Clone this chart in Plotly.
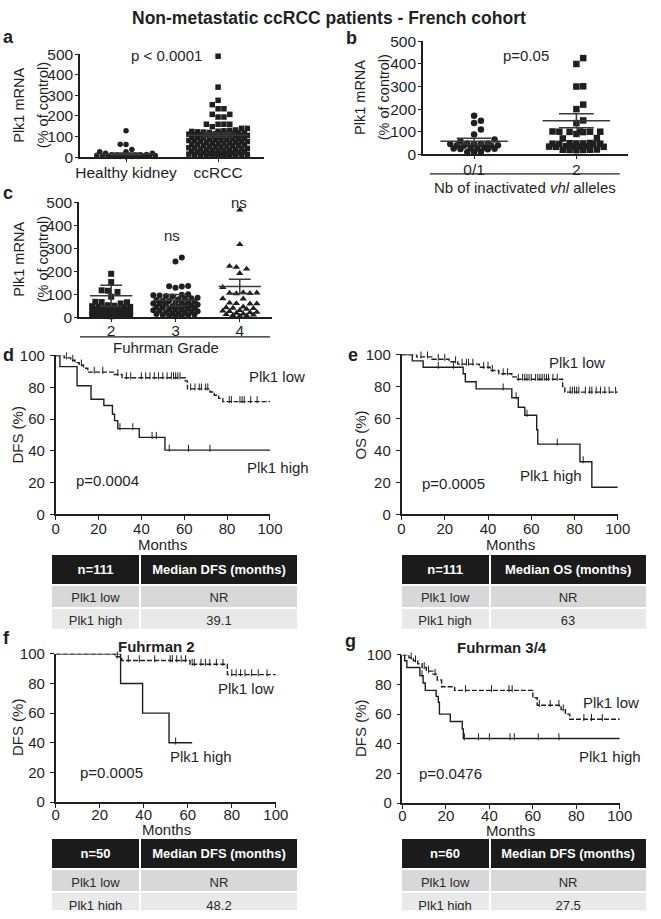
import numpy as np
import plotly.graph_objects as go

W, H = 661, 919
FONT = "Arial, 'Liberation Sans', Helvetica, sans-serif"
INK = "#1f1f1f"

# ===== a : Plk1 mRNA, healthy kidney vs ccRCC =====
a_groups = ["Healthy kidney", "ccRCC"]
a_healthy = [128, 63, 62, 38, 27, 27, 19, 19, 13, 12, 12, 11, 11, 10, 10, 9, 8, 7, 6, 5, 5, 4, 4, 3, 3, 2]
a_ccrcc = [490, 340, 276, 255, 235, 235, 208, 208, 195, 195, 160, 160, 160, 160, 148, 140, 140,
           132, 130, 128, 126, 125, 123, 122, 120, 119, 118, 116, 115, 114, 113, 112, 110, 109, 108,
           106, 105, 104, 102, 100, 99, 98, 96, 95, 94, 92, 90, 89, 88, 86, 85, 83, 81, 80, 78, 76,
           75, 73, 71, 70, 68, 66, 65, 63, 61, 60, 58, 56, 55, 53, 51, 50, 48, 46, 45, 43, 41, 40,
           38, 36, 35, 33, 31, 30, 28, 26, 25, 23, 21, 20, 19, 18, 17, 16, 15, 14, 13, 12, 11, 10,
           9, 8, 7, 6, 5]
a_mean = [16, 107]
a_err = [4, 10]

# ===== b : number of inactivated vhl alleles =====
b_groups = ["0/1", "2"]
b_vhl01 = [171, 148, 139, 110, 87, 65, 58, 48, 48, 47, 46, 45, 40, 40, 39, 38, 29, 27, 25, 25,
           24, 23, 22, 10, 10, 9]
b_vhl2 = [426, 400, 301, 300, 220, 200, 150, 138, 101, 101, 100, 100, 100, 99, 98, 90, 72, 70,
          50, 49, 48, 48, 47, 47, 46, 45, 36, 35, 35, 34, 34, 33, 33, 21, 20, 20, 19, 19, 18]
b_mean = [58, 148]
b_err = [13, 31]

# ===== c : Fuhrman grade =====
c_groups = ["2", "3", "4"]
c_grade2 = [189, 153, 117, 115, 110, 89, 67, 66, 65, 60, 52, 50, 48, 46, 45, 43, 40, 38, 36, 35,
            33, 31, 30, 28, 26, 25, 23, 21, 20, 18, 17, 15, 14, 13, 12, 11, 10, 9, 8, 8, 7, 6, 5,
            5, 4]
c_grade3 = [260, 243, 136, 135, 134, 128, 100, 98, 96, 95, 92, 90, 85, 82, 80, 78, 75, 72, 70,
            68, 66, 64, 62, 60, 58, 56, 54, 52, 50, 48, 46, 44, 42, 40, 38, 36, 34, 32, 30, 28,
            26, 24, 22, 20, 18, 16, 14, 12, 10, 8, 6, 5, 4]
c_grade4 = [467, 317, 222, 218, 210, 191, 130, 107, 106, 105, 104, 103, 81, 80, 62, 60, 59, 58,
            45, 42, 40, 38, 35, 30, 27, 25, 22, 20, 18, 15, 12, 10, 8, 6, 5]
c_mean = [93, 74, 134]
c_err = [46, 25, 31]

# ===== d : DFS, all patients (n=111) =====
d_high_t = [2, 10, 16.5, 22.5, 26.5, 27.5, 29, 39, 51]
d_high_s = [93, 81, 72.5, 68.5, 63, 59, 54, 48.5, 40.5]
d_high_c = [30, 36, 45, 47, 53, 62, 72]
d_low_t = [4, 7, 9, 11, 13, 15, 27, 31, 60.5, 61.5, 72, 74, 76, 78]
d_low_s = [98.5, 97, 95.5, 94, 92, 89.5, 88, 86, 84, 79, 77, 75, 73, 71]
d_low_c = [5, 8, 12, 18, 22, 29, 33, 35, 40, 42, 44, 46, 48, 50, 52, 54, 55, 56, 57, 58, 63, 65,
           67, 68, 70, 71, 81, 82, 86, 87, 88, 91, 94]

# ===== e : OS, all patients (n=111) =====
e_high_t = [5, 10, 28.5, 29.5, 34.5, 51, 54, 57, 62.5, 63, 82.5, 88]
e_high_s = [96, 92, 88, 83, 78.5, 73, 67, 62, 53, 44, 33, 17]
e_high_c = [17, 24, 47, 53, 58, 72, 84]
e_low_t = [7, 14, 22, 26, 36, 41, 45, 51, 53, 74.5, 75.5]
e_low_s = [98.5, 97, 95.5, 94, 92, 90, 88, 86, 84.5, 80, 76.5]
e_low_c = [2, 6, 9, 12, 17, 20, 25, 28, 30, 31, 33, 38, 40, 42, 47, 49, 54, 56, 57, 58, 59, 60,
           62, 63, 64, 65, 66, 67, 68, 70, 72, 78, 79, 80, 81, 82, 85, 87, 88, 90, 92, 94, 96, 99]

# ===== f : DFS, Fuhrman 2 (n=50) =====
f_high_t = [29.5, 39.5, 51.5]
f_high_s = [80, 60, 40]
f_high_c = [2.5, 6.5, 13, 25, 54.5]
f_high_end = 62
f_low_t = [27, 30, 61, 78]
f_low_s = [98, 95.5, 93, 86]
f_low_c = [28, 33, 38, 45, 52, 53, 55, 57, 59, 62, 63, 66, 68, 70, 73, 76, 80, 82, 84, 86, 89,
           92, 96]

# ===== g : DFS, Fuhrman 3/4 (n=60) =====
g_high_t = [1, 2, 8, 9.5, 10.5, 15.5, 16.5, 17, 22, 27.5, 28]
g_high_s = [96, 91.5, 86, 81, 76, 72, 68, 60, 55, 50, 43.5]
g_high_c = [9, 28.5, 35, 40, 49.5, 51.5, 62.5, 72]
g_low_t = [3, 5, 7, 9, 11, 14, 16, 18, 24, 60, 62, 73, 75, 77]
g_low_s = [98, 96, 94, 91.5, 89, 87, 83, 78.5, 76, 71, 66, 63, 60, 56.5]
g_low_c = [4, 6, 10, 12, 15, 29, 41, 49, 50.5, 63, 68, 72, 74, 83.5, 87, 92]

# ===== tables =====
tbl_n = ["n=111", "n=111", "n=50", "n=60"]
tbl_metric = ["Median DFS (months)", "Median OS (months)", "Median DFS (months)", "Median DFS (months)"]
tbl_rows = ["Plk1 low", "Plk1 high"]
tbl_median = [["NR", "39.1"], ["NR", "63"], ["NR", "48.2"], ["NR", "27.5"]]


def fx(x):
    return x / W


def fy(y):
    return 1 - y / H


def swarm(values, center, x_scale, y_scale, size, half_px):
    # simple beeswarm in pixel space, like GraphPad scatter dot plots
    v = np.asarray(values, float)
    ypix = v * y_scale
    step = size / 2
    cands = [0.0]
    for k in range(1, int(half_px // step) + 1):
        cands += [k * step, -k * step]
    placed = []
    xs = np.zeros(len(v))
    for i in np.argsort(v):
        best, best_d = 0.0, -1.0
        for c in cands:
            d = min((np.hypot(c - p[0], ypix[i] - p[1]) for p in placed), default=1e9)
            if d >= size:
                best = c
                break
            if d > best_d:
                best, best_d = c, d
        placed.append((best, ypix[i]))
        xs[i] = center + best / x_scale
    return xs


def km_level(times, surv, t):
    i = np.searchsorted(times, t, side="right")
    return 100.0 if i == 0 else surv[i - 1]


fig = go.Figure()
layout_axes = {}

axis_base = dict(showline=True, linecolor=INK, linewidth=1.5, ticks="outside",
                 tickwidth=1.3, tickcolor=INK, showgrid=False, zeroline=False,
                 fixedrange=True)


def add_axes(n, xpx, ypx, xrange, yrange, xtickvals, xticktext, ydtick, dot=False, xstand=0):
    sx = "" if n == 1 else str(n)
    tf = dict(family=FONT, size=15.5 if dot else 15, color=INK)
    layout_axes["xaxis" + sx] = dict(axis_base, domain=[fx(xpx[0]), fx(xpx[1])], range=xrange,
                                     tickvals=xtickvals, ticktext=xticktext, tickfont=tf,
                                     ticklen=3 if dot else 4,
                                     ticklabelstandoff=xstand,
                                     anchor="y" + sx)
    layout_axes["yaxis" + sx] = dict(axis_base, domain=[fy(ypx[1]), fy(ypx[0])], range=yrange,
                                     tickfont=tf, ticklen=3 if dot else 4,
                                     ticklabelstandoff=-1 if dot else 2,
                                     dtick=ydtick, anchor="x" + sx)
    return "x" + sx, "y" + sx


def dot_panel(n, xpx, ypx, labels, groups, symbols, sizes, halves, means, errs, xstand=-3):
    ngrp = len(groups)
    xa, ya = add_axes(n, xpx, ypx, [-0.5, ngrp - 0.5], [0, 500], list(range(ngrp)), labels, 100,
                      dot=True, xstand=xstand)
    x_scale = (xpx[1] - xpx[0]) / ngrp
    y_scale = (ypx[1] - ypx[0]) / 500
    for i, vals in enumerate(groups):
        xs = swarm(vals, i, x_scale, y_scale, sizes[i] + 0.5, halves[i])
        fig.add_trace(go.Scatter(x=xs, y=vals, mode="markers", xaxis=xa, yaxis=ya,
                                 marker=dict(symbol=symbols[i], size=sizes[i], color=INK,
                                             line=dict(width=0)),
                                 cliponaxis=False, showlegend=False, hoverinfo="y"))
    lx, ly = [], []
    for i, (m, e) in enumerate(zip(means, errs)):
        hw, cw = 0.33, 0.17
        lx += [i - hw, i + hw, None, i - cw, i + cw, None, i - cw, i + cw, None, i, i, None]
        ly += [m, m, None, m + e, m + e, None, m - e, m - e, None, m - e, m + e, None]
    fig.add_trace(go.Scatter(x=lx, y=ly, mode="lines", xaxis=xa, yaxis=ya,
                             line=dict(color="#3a3a3a", width=1.5),
                             cliponaxis=False, showlegend=False, hoverinfo="skip"))


def km_panel(n, xpx, ypx, curves, xstand=0):
    xa, ya = add_axes(n, xpx, ypx, [0, 100], [0, 100], [0, 20, 40, 60, 80, 100],
                      ["0", "20", "40", "60", "80", "100"], 20, xstand=xstand)
    for times, surv, cens, end, dash in curves:
        xs = [0] + list(times) + [end]
        ys = [100] + list(surv) + [surv[-1]]
        fig.add_trace(go.Scatter(x=xs, y=ys, mode="lines", line_shape="hv", xaxis=xa, yaxis=ya,
                                 line=dict(color=INK, width=1.4, dash=dash),
                                 cliponaxis=False, showlegend=False))
        cy = [km_level(times, surv, t) + 1.2 for t in cens]
        fig.add_trace(go.Scatter(x=cens, y=cy, mode="markers", xaxis=xa, yaxis=ya,
                                 marker=dict(symbol="line-ns-open", size=5, color=INK,
                                             line=dict(color=INK, width=1)),
                                 cliponaxis=False, showlegend=False, hoverinfo="skip"))


dot_panel(1, (78, 267), (46, 151), a_groups, [a_healthy, a_ccrcc], ["circle", "square"],
          [5.5, 5.5], [32, 32], a_mean, a_err)
dot_panel(2, (430, 640), (33, 148), b_groups, [b_vhl01, b_vhl2], ["circle", "square"],
          [6.5, 6.5], [26, 30], b_mean, b_err)
dot_panel(3, (77, 275), (197, 314), c_groups, [c_grade2, c_grade3, c_grade4],
          ["square", "circle", "triangle-up"], [6, 6, 6.5], [20, 23, 20], c_mean, c_err,
          xstand=-5)

DASH = "5px,2px"
km_panel(4, (53, 273), (353, 515), [(d_high_t, d_high_s, d_high_c, 100, "solid"),
                                    (d_low_t, d_low_s, d_low_c, 100, DASH)], xstand=-4)
km_panel(5, (408, 630), (352, 515), [(e_high_t, e_high_s, e_high_c, 100, "solid"),
                                     (e_low_t, e_low_s, e_low_c, 100, DASH)], xstand=-4)
km_panel(6, (53, 279), (657, 808), [(f_high_t, f_high_s, f_high_c, f_high_end, "solid"),
                                    (f_low_t, f_low_s, f_low_c, 100, DASH)], xstand=-6)
km_panel(7, (409, 632), (658, 809), [(g_high_t, g_high_s, g_high_c, 100, "solid"),
                                     (g_low_t, g_low_s, g_low_c, 100, DASH)], xstand=-6)

# ===== TABLES =====
tbl_pos = [((48, 302), (555, 632)), ((407, 660), (555, 632)),
           ((48, 302), (845, 919)), ((407, 660), (845, 919))]
for k, ((x0, x1), (y0, y1)) in enumerate(tbl_pos):
    fig.add_trace(go.Table(
        domain=dict(x=[fx(x0), fx(x1)], y=[fy(y1), fy(y0)]),
        columnwidth=[92, 162],
        header=dict(values=[f"<b>{tbl_n[k]}</b>", f"<b>{tbl_metric[k]}</b>"],
                    fill_color="#1b1b1b", line=dict(color="white", width=2),
                    font=dict(family=FONT, size=13, color="white"), height=24, align="center"),
        cells=dict(values=[tbl_rows, tbl_median[k]],
                   fill_color=[["#d8d8d8", "#e9e9e9"], ["#d8d8d8", "#e9e9e9"]],
                   line=dict(color="white", width=2),
                   font=dict(family=FONT, size=13, color="#2a2a2a"), height=23, align="center"),
    ))

# ===== ANNOTATIONS =====
ann = []


def text(x, y, s, size=15, bold=False, angle=0, anchor="center"):
    ann.append(dict(x=fx(x), y=fy(y), xref="paper", yref="paper", text=f"<b>{s}</b>" if bold else s,
                    showarrow=False, textangle=angle, xanchor=anchor, yanchor="middle",
                    borderpad=0, font=dict(family=FONT, size=size, color=INK)))


text(334, 9, "Non-metastatic ccRCC patients - French cohort", size=17.5, bold=True)
for letter, x, y in [("a", 5, 29), ("b", 357, 30), ("c", 4, 187), ("d", 5, 353),
                     ("e", 358, 353), ("f", 3, 641), ("g", 356, 644)]:
    text(x, y, letter, size=18, bold=True)

# y titles of dot plots
for xl, yc in [(16, 98), (366, 90), (16, 255)]:
    text(xl, yc, "Plk1 mRNA", size=14.5, angle=-90)
    text(xl + 24, yc, "(% of control)", size=14.5, angle=-90)

text(167, 47, "p &lt; 0.0001")
text(536, 47, "p=0.05")
text(172, 231, "ns")
text(241, 197, "ns")
text(535, 182, "Nb of inactivated <i>vhl</i> alleles")
text(166, 345, "Fuhrman Grade")

# KM labels
for xl, yc, s in [(14, 434, "DFS (%)"), (366, 434, "OS (%)"), (14, 732, "DFS (%)"), (366, 733, "DFS (%)")]:
    text(xl, yc, s, angle=-90)
for x, y in [(163, 546), (520, 546), (167, 836), (520, 837)]:
    text(x, y, "Months")
text(280, 374, "Plk1 low")
text(281, 467, "Plk1 high")
text(106, 480, "p=0.0004")
text(588, 360, "Plk1 low")
text(561, 475, "Plk1 high")
text(461, 483, "p=0.0005")
text(157, 650, "Fuhrman 2", bold=True)
text(248, 692, "Plk1 low")
text(202, 762, "Plk1 high")
text(110, 778, "p=0.0005")
text(511, 651, "Fuhrman 3/4", bold=True)
text(623, 707, "Plk1 low")
text(622, 762, "Plk1 high")
text(458, 779, "p=0.0476")

shapes = [
    dict(type="line", xref="paper", yref="paper", x0=fx(437), x1=fx(632), y0=fy(168), y1=fy(168),
         line=dict(color=INK, width=1.2)),
    dict(type="line", xref="paper", yref="paper", x0=fx(78), x1=fx(273), y0=fy(334), y1=fy(334),
         line=dict(color=INK, width=1.2)),
]

fig.update_layout(
    width=W, height=H,
    margin=dict(l=0, r=0, t=0, b=0),
    paper_bgcolor="white", plot_bgcolor="white",
    font=dict(family=FONT, color=INK),
    showlegend=False,
    annotations=ann,
    shapes=shapes,
    **layout_axes,
)

# page body has a default 8px margin; drop it so the figure sits at the window origin
fig.write_html("out.html", config={"displayModeBar": False},
               post_script="document.body.style.margin='0';")
